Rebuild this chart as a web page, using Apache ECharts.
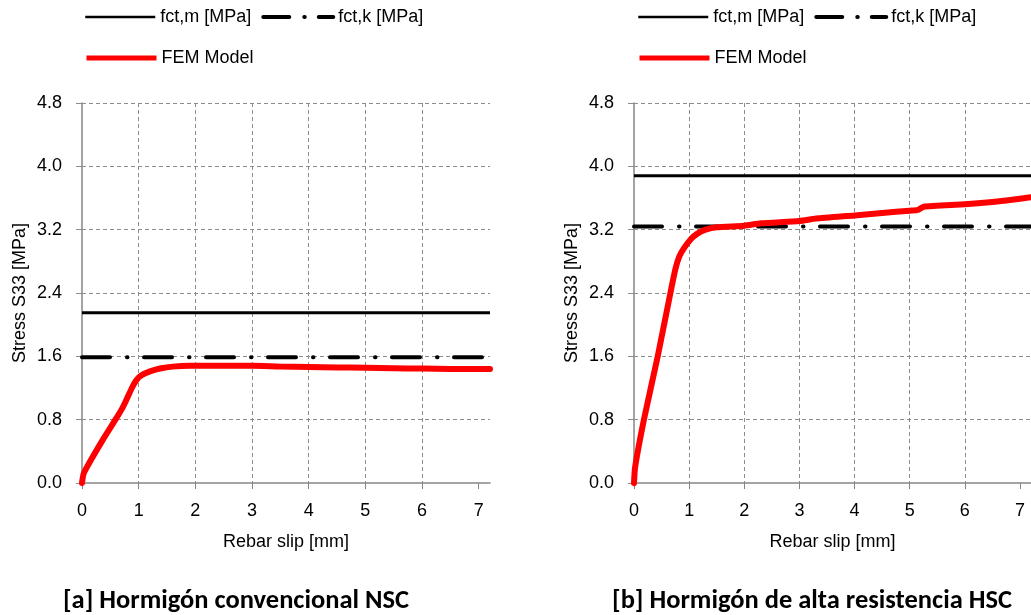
<!DOCTYPE html>
<html>
<head>
<meta charset="utf-8">
<script src="https://cdn.jsdelivr.net/npm/echarts@6/dist/echarts.min.js"></script>
<style>
html,body{margin:0;padding:0;background:#fff;overflow:hidden;}
#chart{width:1031px;height:615px;}
</style>
</head>
<body>
<div id="chart"></div>
<script>
// ---- Data ----
const xTicks = [0, 1, 2, 3, 4, 5, 6, 7];
const yTicks = [0.0, 0.8, 1.6, 2.4, 3.2, 4.0, 4.8];
const xMax = 7.2;

const seriesNames = ['fct,m [MPa]', 'fct,k [MPa]', 'FEM Model'];

// [a] NSC
const nscSlip   = [0, 0.03, 0.15, 0.38, 0.59, 0.70, 0.77, 0.88, 0.96, 1.05, 1.20, 1.40, 1.60, 1.90, 2.50, 3.00, 3.50, 4.00, 4.50, 5.00, 5.50, 6.00, 6.50, 7.00, 7.20];
const nscStress = [0, 0.12, 0.28, 0.56, 0.80, 0.93, 1.03, 1.20, 1.30, 1.36, 1.41, 1.45, 1.47, 1.48, 1.48, 1.48, 1.47, 1.465, 1.46, 1.455, 1.45, 1.445, 1.44, 1.44, 1.44];
const nscFctm = 2.15;
const nscFctk = 1.59;

// [b] HSC
const hscSlip   = [0, 0.02, 0.18, 0.43, 0.66, 0.75, 0.82, 0.91, 1.03, 1.15, 1.30, 1.50, 2.00, 2.30, 3.00, 3.30, 4.00, 4.50, 5.00, 5.15, 5.25, 6.00, 6.50, 7.00, 7.20];
const hscStress = [0, 0.20, 0.80, 1.60, 2.40, 2.70, 2.86, 2.97, 3.08, 3.15, 3.20, 3.23, 3.25, 3.28, 3.31, 3.34, 3.38, 3.41, 3.44, 3.45, 3.49, 3.52, 3.55, 3.59, 3.61];
const hscFctm = 3.88;
const hscFctk = 3.24;

const titles = ['[a] Hormigón convencional NSC', '[b] Hormigón de alta resistencia HSC'];
const xName = 'Rebar slip [mm]';
const yName = 'Stress S33 [MPa]';

// ---- Styles ----
const FONT = "'Liberation Sans Narrow', 'Arial Narrow', 'Liberation Sans', Arial, sans-serif";
const FS = 18;
const AXIS_GRAY = '#868686';
const GRID_GRAY = '#8c8c8c';
const TITLE_FONT = "Carlito, Lato, 'Open Sans', sans-serif";
const dashDot = [28, 17, 0.5, 16.5];

function zip(a, b) { return a.map((v, i) => [v, b[i]]); }

const grids = [
  { left: 82, top: 103, width: 408, height: 380 },
  { left: 634, top: 103, width: 408, height: 380 }
];

function xAxisFor(i) {
  return {
    type: 'value', gridIndex: i, min: 0, max: xMax, interval: 1,
    name: xName, nameLocation: 'middle', nameGap: 50,
    nameTextStyle: { fontFamily: FONT, fontSize: FS, color: '#000' },
    axisLine: { show: true, lineStyle: { color: AXIS_GRAY, width: 1.5 } },
    axisTick: { show: true, length: 6, customValues: xTicks, lineStyle: { color: AXIS_GRAY } },
    axisLabel: { customValues: xTicks, margin: 19, fontFamily: FONT, fontSize: FS, color: '#000' },
    splitLine: { show: true, showMinLine: false, showMaxLine: false, lineStyle: { color: GRID_GRAY, type: [4, 3], width: 1 } }
  };
}
function yAxisFor(i) {
  return {
    type: 'value', gridIndex: i, min: yTicks[0], max: yTicks[yTicks.length - 1], interval: yTicks[1] - yTicks[0],
    name: yName, nameLocation: 'middle', nameGap: 53,
    nameTextStyle: { fontFamily: FONT, fontSize: FS, color: '#000' },
    axisLine: { show: true, lineStyle: { color: AXIS_GRAY, width: 1.5 } },
    axisTick: { show: true, length: 6, lineStyle: { color: GRID_GRAY } },
    axisLabel: { margin: 20, fontFamily: FONT, fontSize: FS, color: '#000', formatter: v => v.toFixed(1) },
    splitLine: { show: true, showMinLine: false, lineStyle: { color: GRID_GRAY, type: [4, 3], width: 1 } }
  };
}

function seriesFor(i, fctm, fctk, slip, stress) {
  return [
    { name: seriesNames[0], type: 'line', xAxisIndex: i, yAxisIndex: i, symbol: 'none', silent: true,
      data: [[0, fctm], [xMax, fctm]], lineStyle: { color: '#000', width: 3 }, itemStyle: { color: '#000' }, z: 3 },
    { name: seriesNames[1], type: 'line', xAxisIndex: i, yAxisIndex: i, symbol: 'none', silent: true,
      data: [[0, fctk], [xMax, fctk]], lineStyle: { color: '#000', width: 4, type: dashDot, cap: 'round' }, itemStyle: { color: '#000' }, z: 3 },
    { name: seriesNames[2], type: 'line', xAxisIndex: i, yAxisIndex: i, symbol: 'none', silent: true, smooth: 0.2,
      data: zip(slip, stress), lineStyle: { color: '#ff0000', width: 6, cap: 'round', join: 'round' }, itemStyle: { color: '#ff0000' }, z: 4 }
  ];
}

const legendLine = {
  'fct,m [MPa]': { color: '#000', width: 2.5, type: 'solid', cap: 'butt' },
  'fct,k [MPa]': { color: '#000', width: 4, type: [26, 15, 0.5, 14], cap: 'round' },
  'FEM Model':   { color: '#ff0000', width: 5, type: 'solid', cap: 'butt' }
};

function legendFor(left, top, names) {
  return {
    left: left, top: top, padding: 0, itemGap: 10, itemWidth: 70, itemHeight: 14,
    orient: 'horizontal', selectedMode: false,
    data: names.map(n => ({ name: n, lineStyle: legendLine[n], itemStyle: { opacity: 0 } })),
    itemStyle: { opacity: 0 },
    textStyle: { fontFamily: FONT, fontSize: FS, color: '#000' }
  };
}

const option = {
  backgroundColor: '#fff',
  animation: false,
  grid: grids,
  xAxis: [xAxisFor(0), xAxisFor(1)],
  yAxis: [yAxisFor(0), yAxisFor(1)],
  legend: [
    legendFor(84, 8, [seriesNames[0], seriesNames[1]]),
    legendFor(84, 49, [seriesNames[2]]),
    legendFor(637, 8, [seriesNames[0], seriesNames[1]]),
    legendFor(637, 49, [seriesNames[2]])
  ],
  series: [].concat(
    seriesFor(0, nscFctm, nscFctk, nscSlip, nscStress),
    seriesFor(1, hscFctm, hscFctk, hscSlip, hscStress)
  ),
  graphic: [
    { type: 'text', style: { x: 236, y: 601, text: titles[0], textAlign: 'center', textVerticalAlign: 'middle',
      fontFamily: TITLE_FONT, fontWeight: 'bold', fontSize: 26.5, fill: '#000' } },
    { type: 'text', style: { x: 812, y: 601, text: titles[1], textAlign: 'center', textVerticalAlign: 'middle',
      fontFamily: TITLE_FONT, fontWeight: 'bold', fontSize: 26.5, fill: '#000' } }
  ]
};

const chart = echarts.init(document.getElementById('chart'), null, { renderer: 'canvas' });
chart.setOption(option);
</script>
</body>
</html>
